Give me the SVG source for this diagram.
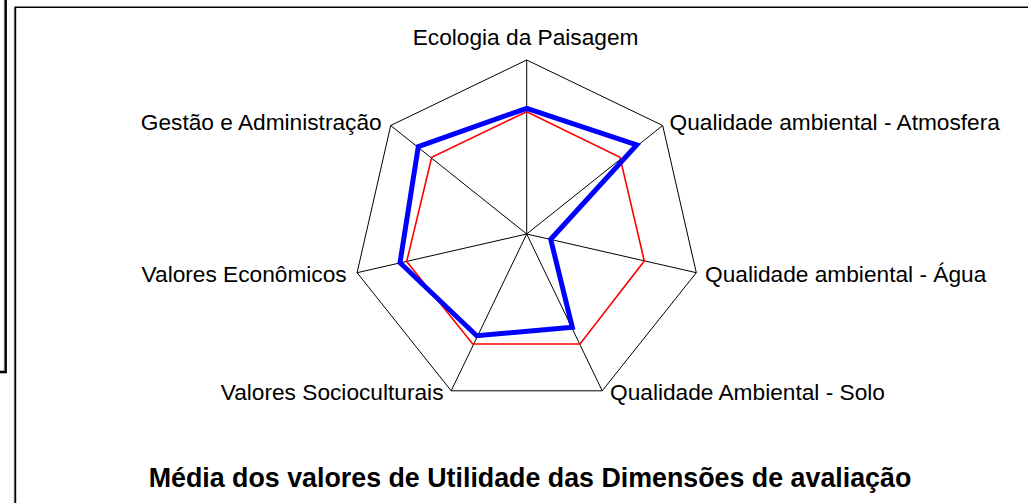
<svg xmlns="http://www.w3.org/2000/svg" width="1028" height="503" viewBox="0 0 1028 503">
<style>
.lbl{font-family:"Liberation Sans",Arial,sans-serif;font-size:22.7px;fill:#000}
.ttl{font-family:"Liberation Sans",Arial,sans-serif;font-size:26.8px;font-weight:bold;fill:#000}
.grid{fill:none;stroke:#000;stroke-width:1}
</style>
<rect width="1028" height="503" fill="#fff"/>
<g id="frame">
<line x1="4.3" y1="0" x2="4.3" y2="371" stroke="#888" stroke-width="1"/>
<line x1="5.8" y1="0" x2="5.8" y2="373" stroke="#000" stroke-width="2.2"/>
<line x1="0" y1="372" x2="6.9" y2="372" stroke="#000" stroke-width="2.6"/>
<line x1="14.3" y1="8" x2="14.3" y2="503" stroke="#888" stroke-width="1"/>
<line x1="15.4" y1="7" x2="15.4" y2="503" stroke="#000" stroke-width="1.6"/>
<line x1="14.5" y1="7.3" x2="1028" y2="7.3" stroke="#000" stroke-width="1.6"/>
</g>
<g id="grid">
<polygon class="grid" points="526.7,60 662.7,125.5 696.3,272.7 602.2,390.8 451.2,390.8 357.1,272.7 390.7,125.5"/>
<path class="grid" d="M526.7,234L526.7,60M526.7,234L662.7,125.5M526.7,234L696.3,272.7M526.7,234L602.2,390.8M526.7,234L451.2,390.8M526.7,234L357.1,272.7M526.7,234L390.7,125.5"/>
</g>
<g id="series-red">
<polygon points="526.7,111.7 620,157.3 644.3,261 580,344 472.7,344 406.7,261.5 431.7,157.3" fill="none" stroke="#f00" stroke-width="1.6"/>
</g>
<g id="series-blue">
<polygon points="526.7,108.3 636.7,145 550.7,239.3 572.3,327.3 476.7,335.7 400,262.7 418.3,146.7" fill="none" stroke="#00f" stroke-width="5" stroke-linejoin="miter"/>
</g>
<g id="labels">
<text class="lbl" x="412.7" y="44.5">Ecologia da Paisagem</text>
<text class="lbl" x="669.5" y="129.5">Qualidade ambiental - Atmosfera</text>
<text class="lbl" x="705" y="281.5">Qualidade ambiental - Água</text>
<text class="lbl" x="610" y="400">Qualidade Ambiental - Solo</text>
<text class="lbl" x="443.5" y="400" text-anchor="end">Valores Socioculturais</text>
<text class="lbl" x="346.7" y="281.5" text-anchor="end">Valores Econômicos</text>
<text class="lbl" x="381.7" y="129.5" text-anchor="end">Gestão e Administração</text>
</g>
<text class="ttl" x="530" y="487" text-anchor="middle">Média dos valores de Utilidade das Dimensões de avaliação</text>
</svg>
